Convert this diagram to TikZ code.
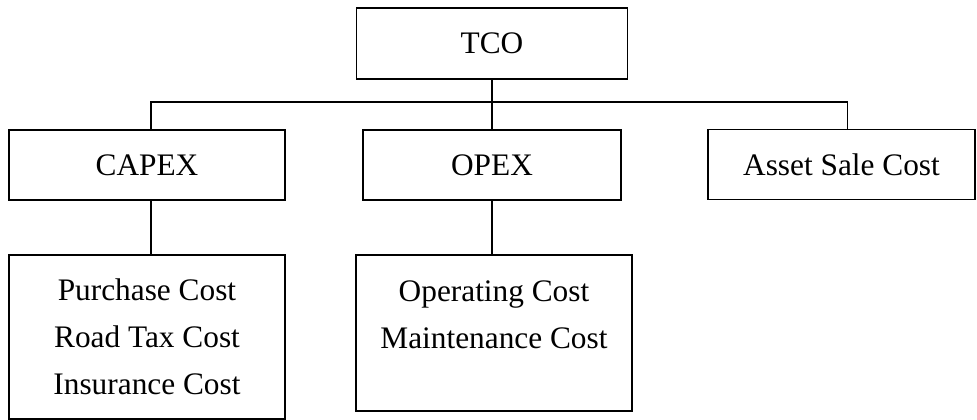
\documentclass[tikz,border=0pt]{standalone}
\usepackage{fontspec}
\setmainfont{Liberation Serif}
\usetikzlibrary{calc}

\begin{document}
\begin{tikzpicture}[x=0.75pt, y=-0.75pt, line width=0.8pt,
		every node/.style={font=\fontsize{23.5pt}{35.25pt}\selectfont},
		costbox/.style={draw, rectangle, inner sep=0pt, align=center}]
	\useasboundingbox (0,0) rectangle (977,420);
	% top level
	\node[costbox, minimum width=271*0.75pt, minimum height=71*0.75pt] (tco) at (492,43.5) {TCO};
	% second level
	\node[costbox, minimum width=276*0.75pt, minimum height=70*0.75pt] (capex) at (147,165) {CAPEX};
	\node[costbox, minimum width=258*0.75pt, minimum height=70*0.75pt] (opex) at (492,165) {OPEX};
	\node[costbox, minimum width=267*0.75pt, minimum height=70*0.75pt] (asset) at (841.5,164.5) {Asset Sale Cost};
	% cost items
	\node[costbox, minimum width=276*0.75pt, minimum height=164*0.75pt] (capexitems) at (147,337)
		{Purchase Cost\\Road Tax Cost\\Insurance Cost};
	\node[costbox, minimum width=276*0.75pt, minimum height=156*0.75pt] (opexitems) at (494,333)
		{Operating Cost\\Maintenance Cost\\[-18pt]\strut};
	% connectors
	\coordinate (bus) at ($(tco.south)!0.45!(opex.north)$);
	\draw (tco.south) -- (opex.north);
	\draw ([xshift=3]capex.north) |- (bus) -| ([xshift=4.5]asset.north);
	\draw ([xshift=3]capex.south) -- ([xshift=3]capex.south |- capexitems.north);
	\draw (opex.south) -- (opex.south |- opexitems.north);
\end{tikzpicture}
\end{document}
